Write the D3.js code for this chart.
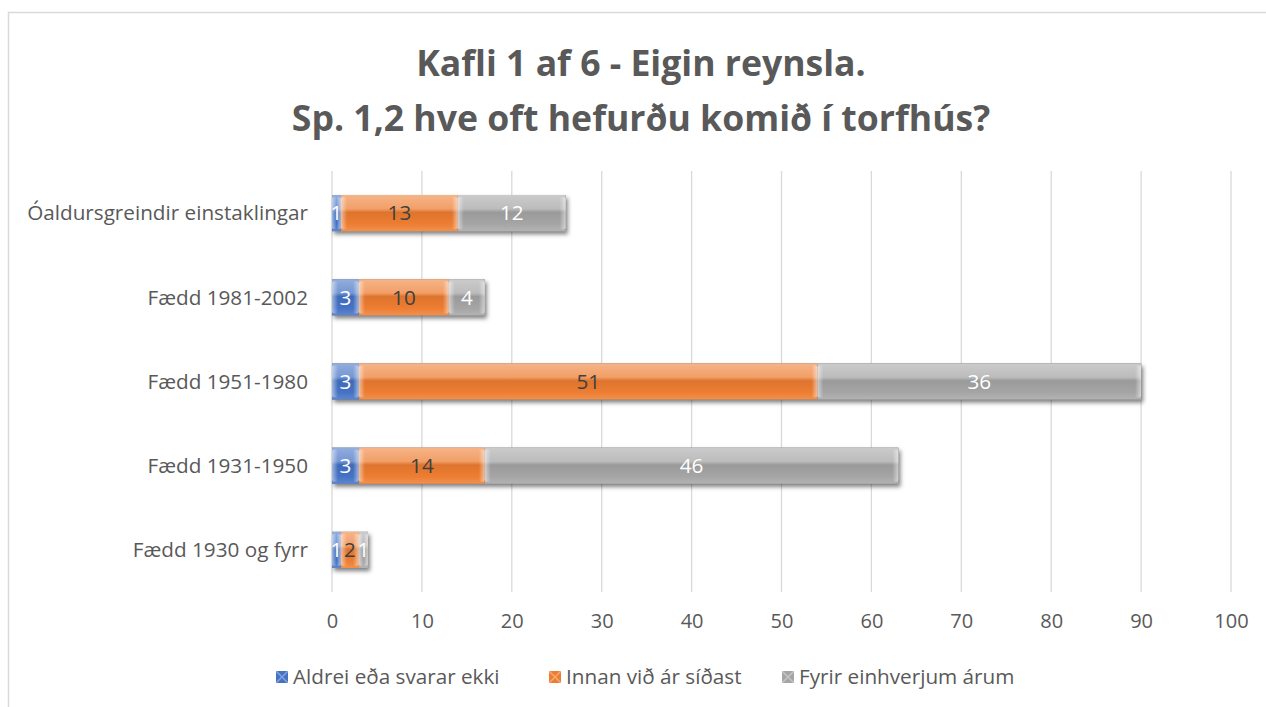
<!DOCTYPE html>
<html>
<head>
<meta charset="utf-8">
<script src="https://cdn.jsdelivr.net/npm/d3@7"></script>
<style>
  body { margin: 0; background: #fff; }
  svg { display: block; font-family: "Open Sans", sans-serif; }
</style>
</head>
<body>
<svg id="chart" width="1266" height="707"></svg>
<script>
/* global d3 */

var categories = ["Óaldursgreindir einstaklingar", "Fædd 1981-2002", "Fædd 1951-1980", "Fædd 1931-1950", "Fædd 1930 og fyrr"];
var seriesNames = ["Aldrei eða svarar ekki", "Innan við ár síðast", "Fyrir einhverjum árum"];
var aldrei = [1, 3, 3, 3, 1];
var innan = [13, 10, 51, 14, 2];
var fyrir = [12, 4, 36, 46, 1];
var xTicks = [0, 10, 20, 30, 40, 50, 60, 70, 80, 90, 100];

var colors = ["#4472c4", "#ed7d31", "#a5a5a5"];
var labelColors = ["#ffffff", "#404040", "#ffffff"];

var svg = d3.select("#chart");
var defs = svg.append("defs");

// frame
svg.append("rect")
    .attr("x", 8.5).attr("y", 12.5)
    .attr("width", 1270).attr("height", 700)
    .attr("fill", "none").attr("stroke", "#d9d9d9").attr("stroke-width", 1.5);

// title
var title = svg.append("text")
    .attr("text-anchor", "middle")
    .attr("fill", "#595959")
    .attr("font-size", 35.6)
    .attr("font-weight", "bold");
title.append("tspan").attr("x", 641).attr("y", 76).text("Kafli 1 af 6 - Eigin reynsla.");
title.append("tspan").attr("x", 641).attr("y", 131).text("Sp. 1,2 hve oft hefurðu komið í torfhús?");

var x = d3.scaleLinear().domain([0, 100]).range([332, 1231]);
var y = d3.scaleBand().domain(categories).range([171, 592]).paddingInner(0.57).paddingOuter(0.285);

// gridlines
svg.append("g").selectAll("line")
    .data(xTicks)
    .join("line")
    .attr("x1", function (d) { return x(d); })
    .attr("x2", function (d) { return x(d); })
    .attr("y1", 171).attr("y2", 592)
    .attr("stroke", "#d9d9d9").attr("stroke-width", 1.3);

// x axis labels
var xAxis = d3.axisBottom(x).tickValues(xTicks).tickSize(0).tickPadding(0);
var gx = svg.append("g").attr("transform", "translate(0,614)").call(xAxis);
gx.select(".domain").remove();
gx.selectAll("text")
    .attr("fill", "#595959")
    .attr("font-size", 20)
    .attr("font-family", "'Open Sans', sans-serif");

// category labels
svg.append("g").selectAll("text")
    .data(categories)
    .join("text")
    .attr("x", 308)
    .attr("y", function (d) { return y(d) + y.bandwidth() / 2; })
    .attr("dy", "0.35em")
    .attr("text-anchor", "end")
    .attr("fill", "#595959")
    .attr("font-size", 20.7)
    .text(function (d) { return d; });

// gradients for bevel look
colors.forEach(function (c, i) {
    var base = d3.color(c);
    var g = defs.append("linearGradient").attr("id", "grad" + i)
        .attr("x1", 0).attr("y1", 0).attr("x2", 0).attr("y2", 1);
    g.append("stop").attr("offset", "0%").attr("stop-color", d3.interpolateRgb(c, "#fff")(0.42));
    g.append("stop").attr("offset", "38%").attr("stop-color", d3.interpolateRgb(c, "#fff")(0.26));
    g.append("stop").attr("offset", "48%").attr("stop-color", base.darker(0.2));
    g.append("stop").attr("offset", "80%").attr("stop-color", c);
    g.append("stop").attr("offset", "100%").attr("stop-color", d3.interpolateRgb(c, "#fff")(0.15));
});

var edge = defs.append("linearGradient").attr("id", "edge")
    .attr("x1", 0).attr("y1", 0).attr("x2", 1).attr("y2", 0);
edge.append("stop").attr("offset", "0%").attr("stop-color", "#fff").attr("stop-opacity", 0.5);
edge.append("stop").attr("offset", "100%").attr("stop-color", "#fff").attr("stop-opacity", 0);

var shadow = defs.append("filter").attr("id", "shadow")
    .attr("x", "-10%").attr("y", "-20%").attr("width", "130%").attr("height", "160%");
shadow.append("feDropShadow")
    .attr("dx", 2).attr("dy", 3).attr("stdDeviation", 2)
    .attr("flood-color", "#000").attr("flood-opacity", 0.5);

// stacked data
var rows = categories.map(function (cat, i) {
    return { cat: cat, s0: aldrei[i], s1: innan[i], s2: fyrir[i] };
});
var stack = d3.stack().keys(["s0", "s1", "s2"]);
var layers = stack(rows);

var barsG = svg.append("g");
// shadow layer under whole bars
barsG.append("g").selectAll("rect")
    .data(rows)
    .join("rect")
    .attr("x", function (d) { return x(0); })
    .attr("y", function (d) { return y(d.cat); })
    .attr("width", function (d) { return x(d.s0 + d.s1 + d.s2) - x(0); })
    .attr("height", y.bandwidth())
    .attr("fill", "#666")
    .attr("filter", "url(#shadow)");

function edgeW(d) { return Math.min(6, (x(d[1]) - x(d[0])) / 2); }

layers.forEach(function (layer, i) {
    var g = barsG.append("g");
    var seg = g.selectAll("g").data(layer).join("g");
    seg.append("rect")
        .attr("x", function (d) { return x(d[0]); })
        .attr("y", function (d) { return y(d.data.cat); })
        .attr("width", function (d) { return x(d[1]) - x(d[0]); })
        .attr("height", y.bandwidth())
        .attr("fill", "url(#grad" + i + ")");
    // bevel edges at segment ends
    seg.append("rect")
        .attr("x", function (d) { return x(d[0]); })
        .attr("y", function (d) { return y(d.data.cat) + 2; })
        .attr("width", edgeW)
        .attr("height", y.bandwidth() - 4)
        .attr("rx", 2)
        .attr("fill", "url(#edge)");
    seg.append("rect")
        .attr("x", function (d) { return x(d[1]) - edgeW(d); })
        .attr("y", function (d) { return y(d.data.cat) + 2; })
        .attr("width", edgeW)
        .attr("height", y.bandwidth() - 4)
        .attr("rx", 2)
        .attr("fill", "url(#edge)")
        .attr("transform", function (d) {
            var cx = x(d[1]) - edgeW(d) / 2;
            return "translate(" + (2 * cx) + ",0) scale(-1,1)";
        });
    seg.append("text")
        .attr("x", function (d) { return (x(d[0]) + x(d[1])) / 2; })
        .attr("y", function (d) { return y(d.data.cat) + y.bandwidth() / 2; })
        .attr("dy", "0.35em")
        .attr("text-anchor", "middle")
        .attr("fill", labelColors[i])
        .attr("font-size", 20.7)
        .text(function (d) { return d[1] - d[0]; });
});

// legend
var legendX = [276, 549, 782];
var legend = svg.append("g").selectAll("g")
    .data(seriesNames)
    .join("g")
    .attr("transform", function (d, i) { return "translate(" + legendX[i] + ",677)"; });
legend.append("rect")
    .attr("x", 0).attr("y", -6).attr("width", 12).attr("height", 12)
    .attr("fill", function (d, i) { return colors[i]; });
legend.append("path")
    .attr("d", "M0,-6L12,6M12,-6L0,6")
    .attr("stroke", "#fff").attr("stroke-opacity", 0.35).attr("stroke-width", 1.5);
legend.append("text")
    .attr("x", 17).attr("y", 0).attr("dy", "0.35em")
    .attr("fill", "#595959")
    .attr("font-size", 20.7)
    .text(function (d) { return d; });
</script>
</body>
</html>
